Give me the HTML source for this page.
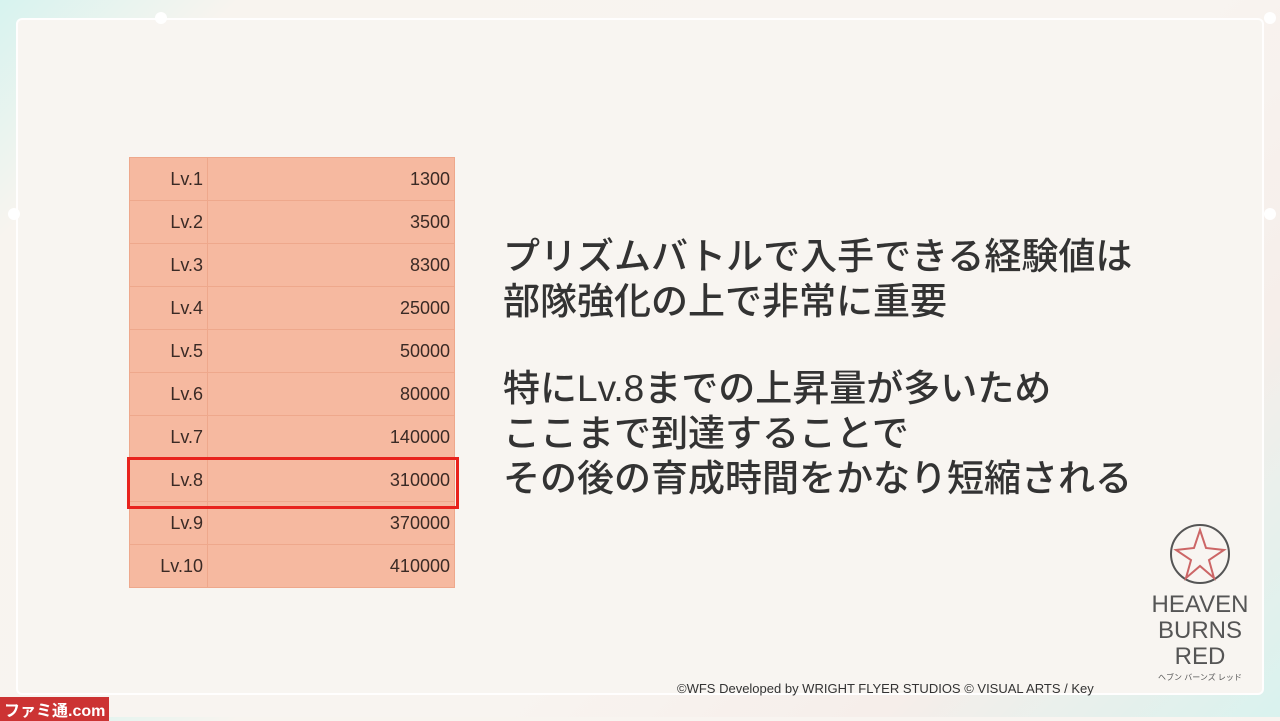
<!DOCTYPE html>
<html><head><meta charset="utf-8"><style>
html,body{margin:0;padding:0}
body{width:1280px;height:717px;overflow:hidden;position:relative;font-family:"Liberation Sans","Noto Sans CJK JP",sans-serif;
background:linear-gradient(135deg,#d7f3ef 0%,#f8f4ef 12%,#f8f4f0 60%,#f6eeea 80%,#d9f2ee 100%);}
.frame{position:absolute;left:16px;top:18px;right:16px;bottom:22px;border:2px solid rgba(255,255,255,0.9);border-radius:6px;background:#f8f5f1}
.dot{position:absolute;width:12px;height:12px;border-radius:50%;background:#fff}
table{position:absolute;left:129px;top:157px;border-collapse:collapse;width:326px;background:#f6b9a0}
td{height:42px;border:1px solid #eea88c;font-size:18px;color:#3a2a25;text-align:right;padding:0 4px 0 0;}
td.a{width:73px}
.hl{position:absolute;left:127px;top:457px;width:326px;height:46px;border:3px solid #e8231d}
.txt{position:absolute;left:503px;top:234px;font-size:37px;line-height:45px;color:#333;font-weight:500}
.copy{position:absolute;left:677px;top:681px;font-size:13px;color:#333}
.logo{position:absolute;left:1145px;top:522px;width:110px;text-align:center;color:#555;font-size:24px;line-height:26px;letter-spacing:0px}
.fami{position:absolute;left:0;top:697px;font-size:16px;font-weight:bold;color:#fff;background:#c33;padding:0 4px}
</style></head><body>
<div class="frame"></div>
<div class="dot" style="left:155px;top:12px"></div>
<div class="dot" style="left:8px;top:208px"></div>
<div class="dot" style="left:1264px;top:208px"></div>
<div class="dot" style="left:1264px;top:12px"></div>
<table>
<tr><td class="a">Lv.1</td><td>1300</td></tr>
<tr><td class="a">Lv.2</td><td>3500</td></tr>
<tr><td class="a">Lv.3</td><td>8300</td></tr>
<tr><td class="a">Lv.4</td><td>25000</td></tr>
<tr><td class="a">Lv.5</td><td>50000</td></tr>
<tr><td class="a">Lv.6</td><td>80000</td></tr>
<tr><td class="a">Lv.7</td><td>140000</td></tr>
<tr><td class="a">Lv.8</td><td>310000</td></tr>
<tr><td class="a">Lv.9</td><td>370000</td></tr>
<tr><td class="a">Lv.10</td><td>410000</td></tr>
</table>
<div class="hl"></div>
<div class="txt">プリズムバトルで入手できる経験値は<br>部隊強化の上で非常に重要<br><div style="height:42px"></div>特にLv.8までの上昇量が多いため<br>ここまで到達することで<br>その後の育成時間をかなり短縮される</div>
<div class="logo">
<svg width="64" height="64" viewBox="0 0 64 64"><circle cx="32" cy="32" r="29" fill="none" stroke="#555" stroke-width="2"/><polygon points="32,8 38,26 56,28 41,38 46,56 32,44 18,56 23,38 8,28 26,26" fill="none" stroke="#c66" stroke-width="2"/></svg>
<div>HEAVEN</div><div>BURNS</div><div>RED</div><div style="font-size:8px;line-height:16px">ヘブン バーンズ レッド</div>
</div>
<div class="copy">©WFS Developed by WRIGHT FLYER STUDIOS © VISUAL ARTS / Key</div>
<div class="fami">ファミ通.com</div>
</body></html>
